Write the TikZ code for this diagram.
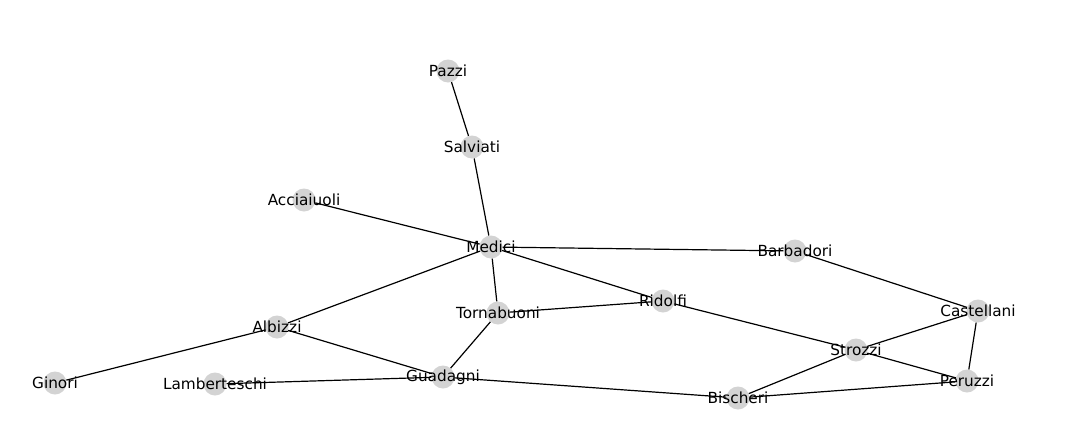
\documentclass[tikz,border=0pt]{standalone}
\usepackage{fontspec}
\setmainfont{DejaVu Sans}
\begin{document}
\begin{tikzpicture}[x=1pt,y=-1pt,
  vtx/.style={circle,fill={rgb,255:red,211;green,211;blue,211},draw=none,minimum size=23pt,inner sep=0pt},
  lbl/.style={inner sep=0pt,font=\fontsize{15.3pt}{16pt}\selectfont,text=black},
  edge/.style={draw=black,line width=1.2pt}]
\useasboundingbox (0,0) rectangle (1074,434);
\node[vtx] (Pazzi) at (448,71) {};
\node[vtx] (Salviati) at (472,147) {};
\node[vtx] (Acciaiuoli) at (304,200) {};
\node[vtx] (Medici) at (491,247) {};
\node[vtx] (Barbadori) at (795,251) {};
\node[vtx] (Ridolfi) at (663,301) {};
\node[vtx] (Tornabuoni) at (498,313) {};
\node[vtx] (Albizzi) at (277,327) {};
\node[vtx] (Castellani) at (978,311) {};
\node[vtx] (Strozzi) at (856,350) {};
\node[vtx] (Ginori) at (55,383) {};
\node[vtx] (Lamberteschi) at (215,384) {};
\node[vtx] (Guadagni) at (443,377) {};
\node[vtx] (Peruzzi) at (967,381) {};
\node[vtx] (Bischeri) at (738,398) {};
\foreach \a/\b in {Pazzi/Salviati,Salviati/Medici,Acciaiuoli/Medici,Medici/Barbadori,
  Medici/Ridolfi,Medici/Tornabuoni,Medici/Albizzi,Barbadori/Castellani,Ridolfi/Tornabuoni,
  Ridolfi/Strozzi,Tornabuoni/Guadagni,Albizzi/Guadagni,Albizzi/Ginori,Lamberteschi/Guadagni,
  Guadagni/Bischeri,Castellani/Strozzi,Castellani/Peruzzi,Strozzi/Peruzzi,Strozzi/Bischeri,
  Bischeri/Peruzzi}
  \draw[edge] (\a) -- (\b);
\foreach \n in {Pazzi,Salviati,Acciaiuoli,Medici,Barbadori,Ridolfi,Tornabuoni,Albizzi,
  Castellani,Strozzi,Ginori,Lamberteschi,Guadagni,Peruzzi,Bischeri}
  \node[lbl] (\n-t) at (\n) {\n};
\end{tikzpicture}
\end{document}
